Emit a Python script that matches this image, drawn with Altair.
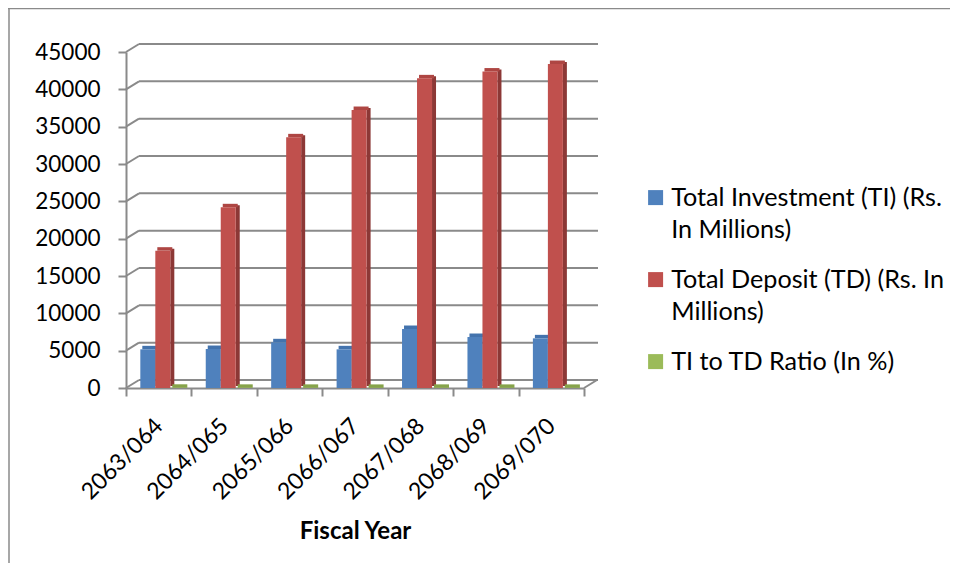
import altair as alt
import pandas as pd

years = ["2063/064", "2064/065", "2065/066", "2066/067", "2067/068", "2068/069", "2069/070"]
series_names = [
    "Total Investment (TI) (Rs. In Millions)",
    "Total Deposit (TD) (Rs. In Millions)",
    "TI to TD Ratio (In %)",
]
total_investment = [5180, 5220, 6120, 5180, 7900, 6830, 6650]
total_deposit = [18390, 24200, 33570, 37230, 41470, 42380, 43390]
ti_td_ratio = [28.2, 21.6, 18.2, 13.9, 19.0, 16.1, 15.3]
y_ticks = [0, 5000, 10000, 15000, 20000, 25000, 30000, 35000, 40000, 45000]

front_colors = ["#4F81BD", "#C0504D", "#9BBB59"]
side_colors = ["#385D8A", "#8C3836", "#71893F"]
cap_colors = ["#4373AD", "#AE4643", "#86A34A"]

W, H = 458, 336
DX, DY = 13, -8
BAR_W = 15
centers = [-10.9, 4.1, 19.1]

rows = []
for s, vals in zip(series_names, [total_investment, total_deposit, ti_td_ratio]):
    for y, v in zip(years, vals):
        rows.append({"Fiscal Year": y, "series": s, "value": v})
df = pd.DataFrame(rows)
ticks_df = pd.DataFrame({"value": y_ticks})
one = pd.DataFrame({"a": [0]})
zero = pd.DataFrame({"value": [0]})

GRAY = "#8a8a8a"
FONT = "Lato"

xenc = alt.X(
    "Fiscal Year:N",
    sort=years,
    scale=alt.Scale(paddingInner=0, paddingOuter=0),
    axis=alt.Axis(
        title="Fiscal Year",
        labelAngle=315,
        labelAlign="right",
        labelBaseline="middle",
        labelPadding=26,
        labelFont=FONT,
        labelFontSize=23,
        labelColor="#000000",
        tickBand="extent",
        tickSize=8,
        tickColor=GRAY,
        tickWidth=2,
        domainColor=GRAY,
        domainWidth=2,
        titleFont=FONT,
        titleFontSize=24,
        titleFontWeight="bold",
        titleColor="#000000",
        titleBaseline="top",
        titleY=131,
        grid=False,
    ),
)
yscale = alt.Scale(domain=[0, 45000], nice=False)
yaxis = alt.Axis(
    title=None,
    values=y_ticks,
    format="d",
    labelFont=FONT,
    labelFontSize=22.5,
    labelColor="#000000",
    labelPadding=18,
    tickSize=8,
    tickColor=GRAY,
    tickWidth=2,
    domainColor=GRAY,
    domainWidth=2,
    grid=False,
)
yenc = alt.Y("value:Q", scale=yscale, axis=yaxis)

color_scale = alt.Scale(domain=series_names, range=front_colors)
legend = alt.Legend(
    title=None,
    orient="none",
    legendX=517,
    legendY=133,
    symbolType="square",
    symbolSize=225,
    symbolStrokeWidth=0,
    labelFont=FONT,
    labelFontSize=25.2,
    labelColor="#000000",
    labelOffset=3,
    labelLimit=0,
    rowPadding=24,
    labelExpr=(
        "datum.label == 'Total Investment (TI) (Rs. In Millions)' ? ['Total Investment (TI) (Rs.', 'In Millions)'] : "
        "datum.label == 'Total Deposit (TD) (Rs. In Millions)' ? ['Total Deposit (TD) (Rs. In', 'Millions)'] : datum.label"
    ),
)

# back wall grid lines and depth connectors
wall = alt.Chart(ticks_df).mark_rule(color=GRAY, strokeWidth=2, yOffset=DY).encode(
    x=alt.value(DX), x2=alt.value(W + DX + 1), y=yenc
)
conn = alt.Chart(ticks_df).mark_rule(color=GRAY, strokeWidth=2, y2Offset=DY).encode(
    x=alt.value(0), x2=alt.value(DX), y=yenc, y2="value:Q"
)
floor_r = alt.Chart(zero).mark_rule(color=GRAY, strokeWidth=2, y2Offset=DY).encode(
    x=alt.value(W), x2=alt.value(W + DX), y=yenc, y2="value:Q"
)

layers = [wall, conn, floor_r]
for i, s in enumerate(series_names):
    base = alt.Chart(df).transform_filter(alt.datum.series == s)
    if i < 2:
        side = base.mark_bar(
            width=4, xOffset=centers[i] + BAR_W / 2 + 2, yOffset=-2, y2Offset=-2,
            color=side_colors[i]
        ).encode(x=xenc, y=yenc, y2=alt.datum(0))
        layers.append(side)
    cap = base.mark_bar(
        width=BAR_W, xOffset=centers[i] + 2, yOffset=-3.5, y2Offset=0, color=cap_colors[i]
    ).encode(x=xenc, y=yenc, y2="value:Q")
    front = base.mark_bar(width=BAR_W, xOffset=centers[i]).encode(
        x=xenc,
        y=yenc,
        y2=alt.datum(0),
        color=alt.Color("series:N", scale=color_scale, legend=legend),
    )
    if i < 2:
        layers += [cap, front]
    else:
        layers += [front, cap]

# chart-area border (left and top edges)
border_l = alt.Chart(one).mark_rule(color=GRAY, strokeWidth=1.5).encode(
    x=alt.value(-117), y=alt.value(-44), y2=alt.value(H + 200)
)
border_t = alt.Chart(one).mark_rule(color=GRAY, strokeWidth=1.5).encode(
    x=alt.value(-118), x2=alt.value(W + 400), y=alt.value(-43.5)
)
layers += [border_l, border_t]

chart = (
    alt.layer(*layers)
    .properties(
        width=W,
        height=H,
        autosize=alt.AutoSizeParams(type="none"),
        padding={"left": 118, "top": 44, "right": 366, "bottom": 175},
        background="white",
    )
    .configure(
        style={"guide-label": {"lineHeight": 32}},
        view=alt.ViewConfig(stroke=None),
    )
)

chart.save("out.html", embed_options={"renderer": "svg", "actions": False})
